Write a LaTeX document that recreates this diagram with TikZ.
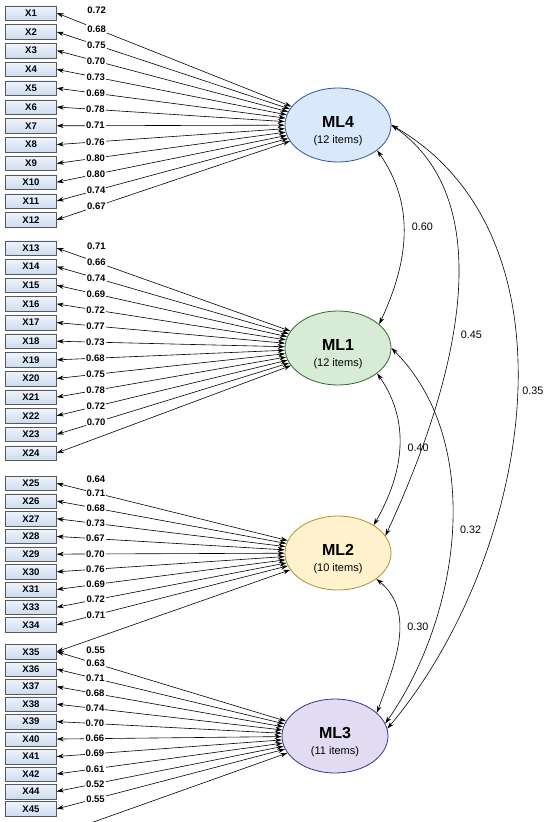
\documentclass[tikz,border=0pt]{standalone}
\usepackage{fontspec}
\setmainfont{Liberation Sans}
\usetikzlibrary{shapes.geometric,arrows.meta}
\definecolor{itemtop}{HTML}{EEF4FB}
\definecolor{itembot}{HTML}{CCDCF0}
\definecolor{mlfourfill}{HTML}{DAE8FC}
\definecolor{mlfourdraw}{HTML}{2B5797}
\definecolor{mlonefill}{HTML}{D8EBD6}
\definecolor{mlonedraw}{HTML}{2F6B2F}
\definecolor{mltwofill}{HTML}{FFF2CC}
\definecolor{mltwodraw}{HTML}{B38F30}
\definecolor{mlthreefill}{HTML}{E2DCF3}
\definecolor{mlthreedraw}{HTML}{3F2F8F}
\newcommand{\mltext}[2]{\rule{0pt}{24pt}{\fontsize{16}{18}\selectfont\bfseries #1}\\[4pt](#2 items)}

\begin{document}
\begin{tikzpicture}[x=1pt, y=-1pt,
        item/.style={draw=black!65, top color=itemtop, bottom color=itembot, minimum width=51pt, minimum height=14.5pt, inner sep=0pt, font=\bfseries\fontsize{9.6}{10}\selectfont},
        factor/.style={ellipse, draw=#1draw, fill=#1fill, line width=0.8pt, minimum width=106pt, minimum height=74pt, inner sep=0pt, align=center, font=\fontsize{11}{12}\selectfont},
        load/.style={{Stealth[length=7pt,width=4.5pt]}-{Stealth[length=7pt,width=4.5pt]}, line width=0.6pt},
        lbl/.style={fill=white, inner sep=1.2pt, pos=0.17, font=\bfseries\fontsize{9.5}{10}\selectfont},
        cov/.style={{Stealth[length=7pt,width=4.5pt]}-{Stealth[length=7pt,width=4.5pt]}, line width=0.6pt},
        covlbl/.style={anchor=west, xshift=6pt, inner sep=2pt, font=\fontsize{10.8}{12}\selectfont}]
        \useasboundingbox (0,0) rectangle (550,822);

        \foreach \i in {1,...,12}
            \node[item] (X\i) at (31, {13+18.8*(\i-1)}) {X\i};
        \foreach \i in {13,...,24}
            \node[item] (X\i) at (31, {248+18.64*(\i-13)}) {X\i};
        \foreach \i [count=\k from 0] in {25,...,31,33,34}
            \node[item] (X\i) at (31, {483.3+17.7*\k}) {X\i};
        \foreach \i [count=\k from 0] in {35,...,42,44,45}
            \node[item] (X\i) at (31, {651.7+17.47*\k}) {X\i};
        \coordinate (X46) at (57,835);

        \node[factor=mlfour] (ML4) at (338,125) {\mltext{ML4}{12}};
        \node[factor=mlone] (ML1) at (338,348) {\mltext{ML1}{12}};
        \node[factor=mltwo] (ML2) at (338,553) {\mltext{ML2}{10}};
        \node[factor=mlthree] (ML3) at (335,736) {\mltext{ML3}{11}};

        \foreach \i/\v in {1/0.68, 2/0.75, 3/0.70, 4/0.73, 5/0.69, 6/0.78, 7/0.71, 8/0.76, 9/0.80, 10/0.80, 11/0.74, 12/0.67}
            \draw[load] (X\i.east) -- node[lbl] {\v} (ML4);
        \path (X1.east) -- node[lbl, yshift=19pt] {0.72} (ML4);

        \foreach \i/\v in {13/0.66, 14/0.74, 15/0.69, 16/0.72, 17/0.77, 18/0.73, 19/0.68, 20/0.75, 21/0.78, 22/0.72, 23/0.70}
            \draw[load] (X\i.east) -- node[lbl] {\v} (ML1);
        \draw[load] (X24.east) -- (ML1);
        \path (X13.east) -- node[lbl, yshift=16pt] {0.71} (ML1);

        \foreach \i/\v in {25/0.71, 26/0.68, 27/0.73, 28/0.67, 29/0.70, 30/0.76, 31/0.69, 33/0.72, 34/0.71}
            \draw[load] (X\i.east) -- node[lbl] {\v} (ML2);
        \draw[load] (X35.east) -- (ML2);
        \path (X25.east) -- node[lbl, yshift=14pt] {0.64} (ML2);

        \foreach \i/\v in {35/0.63, 36/0.71, 37/0.68, 38/0.74, 39/0.70, 40/0.66, 41/0.69, 42/0.61, 44/0.52, 45/0.55}
            \draw[load] (X\i.east) -- node[lbl] {\v} (ML3);
        \draw[load] (X46) -- (ML3);
        \path (X35.east) -- node[lbl, yshift=13pt] {0.55} (ML3);

        \draw[cov] (ML4.-33) to[out=-55, in=65] node[covlbl, pos=0.45] {0.60} (ML1.30);
        \draw[cov] (ML1.-33) to[out=-55, in=60] node[covlbl, pos=0.5] {0.40} (ML2.38);
        \draw[cov] (ML2.-34) to[out=-40, in=70] node[covlbl, pos=0.4] {0.30} (ML3.29);
        \draw[cov] (ML4.east) to[out=-35, in=65, looseness=0.9] node[covlbl, pos=0.55] {0.45} (ML2.20);
        \draw[cov] (ML4.east) to[out=-30, in=50, looseness=0.95] node[covlbl, pos=0.48, xshift=-3pt] {0.35} (ML3.8);
        \draw[cov] (ML1.east) to[out=-45, in=55, looseness=0.9] node[covlbl, pos=0.5] {0.32} (ML3.14);
    \end{tikzpicture}
\end{document}
